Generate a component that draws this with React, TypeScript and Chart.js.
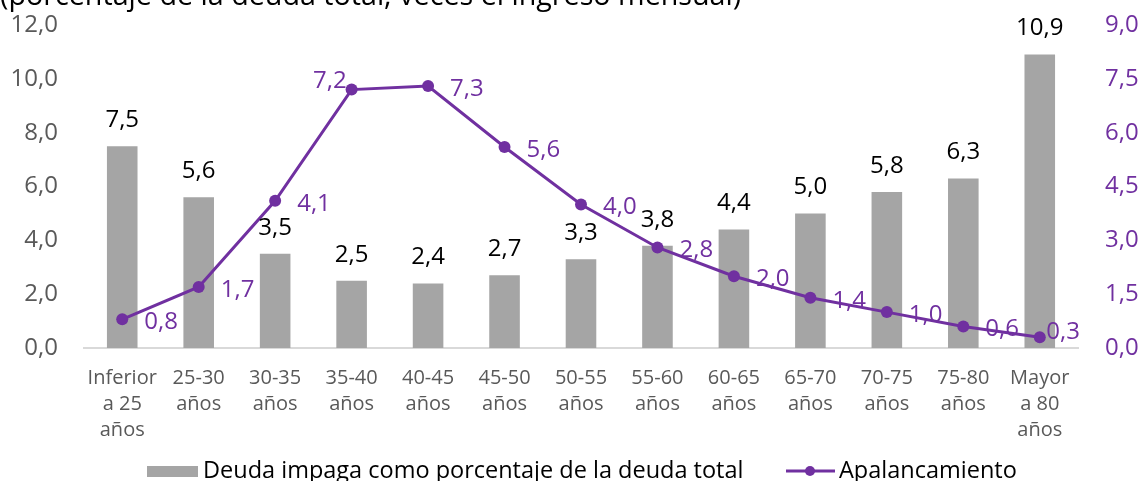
import React, { useEffect, useRef } from "react";
import { Chart, registerables } from "chart.js";

Chart.register(...registerables);

const titleText = "(porcentaje de la deuda total; veces el ingreso mensual)";
const categories: string[][] = [
  ["Inferior", "a 25", "años"],
  ["25-30", "años"],
  ["30-35", "años"],
  ["35-40", "años"],
  ["40-45", "años"],
  ["45-50", "años"],
  ["50-55", "años"],
  ["55-60", "años"],
  ["60-65", "años"],
  ["65-70", "años"],
  ["70-75", "años"],
  ["75-80", "años"],
  ["Mayor", "a 80", "años"],
];
const deudaImpaga = [7.5, 5.6, 3.5, 2.5, 2.4, 2.7, 3.3, 3.8, 4.4, 5.0, 5.8, 6.3, 10.9];
const apalancamiento = [0.8, 1.7, 4.1, 7.2, 7.3, 5.6, 4.0, 2.8, 2.0, 1.4, 1.0, 0.6, 0.3];
const leftTicks = { min: 0, max: 12, step: 2 };
const rightTicks = { min: 0, max: 9, step: 1.5 };
const seriesNames = ["Deuda impaga como porcentaje de la deuda total", "Apalancamiento"];

const FONT = "'Open Sans', 'Noto Sans', sans-serif";
const GRAY = "#A5A5A5";
const PURPLE = "#7030A0";
const fmt = (v: number) => v.toFixed(1).replace(".", ",");

const overlayPlugin = {
  id: "overlay",
  afterDraw(chart: any) {
    const ctx = chart.ctx;
    const area = chart.chartArea;
    ctx.save();
    // title (cut off at top)
    ctx.font = `28.7px ${FONT}`;
    ctx.fillStyle = "#000";
    ctx.textAlign = "left";
    ctx.textBaseline = "alphabetic";
    ctx.fillText(titleText, 0, 5);

    // bar labels
    const barMeta = chart.getDatasetMeta(0);
    ctx.font = `24px ${FONT}`;
    ctx.fillStyle = "#000";
    ctx.textAlign = "center";
    ctx.textBaseline = "middle";
    barMeta.data.forEach((el: any, i: number) => {
      ctx.fillText(fmt(deudaImpaga[i]), el.x, el.y - 26);
    });

    // line labels
    const lineMeta = chart.getDatasetMeta(1);
    ctx.fillStyle = PURPLE;
    ctx.textBaseline = "middle";
    lineMeta.data.forEach((el: any, i: number) => {
      const txt = fmt(apalancamiento[i]);
      const w = ctx.measureText(txt).width;
      let x: number;
      let y: number;
      if (i === 3) {
        x = el.x - 5 - w;
        y = el.y - 8;
      } else {
        x = Math.min(el.x + 22, area.right + 2 - w);
        y = Math.min(el.y + 3, area.bottom - 16);
      }
      ctx.textAlign = "left";
      ctx.fillText(txt, x, y);
    });

    // legend
    const ly = 471;
    ctx.fillStyle = GRAY;
    ctx.fillRect(147, ly - 5, 51, 11);
    ctx.font = `23.5px ${FONT}`;
    ctx.fillStyle = "#000";
    ctx.textAlign = "left";
    ctx.textBaseline = "middle";
    ctx.fillText(seriesNames[0], 203, ly);
    ctx.strokeStyle = PURPLE;
    ctx.lineWidth = 3;
    ctx.beginPath();
    ctx.moveTo(786, ly);
    ctx.lineTo(835, ly);
    ctx.stroke();
    ctx.fillStyle = PURPLE;
    ctx.beginPath();
    ctx.arc(810, ly, 5, 0, Math.PI * 2);
    ctx.fill();
    ctx.fillStyle = "#000";
    ctx.fillText(seriesNames[1], 839, ly);
    ctx.restore();
  },
};

export default function App() {
  const ref = useRef<HTMLCanvasElement>(null);
  useEffect(() => {
    if (!ref.current) return;
    const chart = new Chart(ref.current, {
      type: "bar",
      data: {
        labels: categories,
        datasets: [
          {
            type: "bar",
            label: seriesNames[0],
            data: deudaImpaga,
            backgroundColor: GRAY,
            yAxisID: "y",
            order: 1,
            categoryPercentage: 1,
            barPercentage: 0.4,
          },
          {
            type: "line",
            label: seriesNames[1],
            data: apalancamiento,
            borderColor: PURPLE,
            backgroundColor: PURPLE,
            borderWidth: 3,
            pointRadius: 6,
            pointBackgroundColor: PURPLE,
            pointBorderWidth: 0,
            yAxisID: "y1",
            order: 0,
            tension: 0,
          },
        ],
      } as any,
      options: {
        responsive: false,
        animation: false,
        layout: { padding: { top: 25, left: 0, right: 0, bottom: 0 } },
        plugins: {
          legend: { display: false },
          tooltip: { enabled: false },
          title: { display: false },
        },
        scales: {
          x: {
            grid: { display: false, drawTicks: false },
            border: { display: true, color: "#D9D9D9", width: 2 },
            ticks: {
              color: "#595959",
              font: { family: FONT, size: 20, lineHeight: 1.3 },
              padding: 17,
              maxRotation: 0,
              autoSkip: false,
            },
            afterFit: (s: any) => {
              s.height = 133;
            },
          },
          y: {
            position: "left",
            min: leftTicks.min,
            max: leftTicks.max,
            grid: { display: false, drawTicks: false },
            border: { display: false },
            ticks: {
              stepSize: leftTicks.step,
              color: "#595959",
              font: { family: FONT, size: 24 },
              padding: 26,
              callback: (v: any) => fmt(Number(v)),
            },
            afterFit: (s: any) => {
              s.width = 84;
              s.paddingTop = 0;
              s.paddingBottom = 0;
            },
          },
          y1: {
            position: "right",
            min: rightTicks.min,
            max: rightTicks.max,
            grid: { display: false, drawTicks: false },
            border: { display: false },
            ticks: {
              stepSize: rightTicks.step,
              color: PURPLE,
              font: { family: FONT, size: 24 },
              padding: 27,
              callback: (v: any) => fmt(Number(v)),
            },
            afterFit: (s: any) => {
              s.width = 66;
              s.paddingTop = 0;
              s.paddingBottom = 0;
            },
          },
        },
      } as any,
      plugins: [overlayPlugin],
    });
    return () => chart.destroy();
  }, []);
  return (
    <canvas
      ref={ref}
      width={1144}
      height={481}
      style={{ position: "fixed", left: 0, top: 0, display: "block" }}
    />
  );
}
